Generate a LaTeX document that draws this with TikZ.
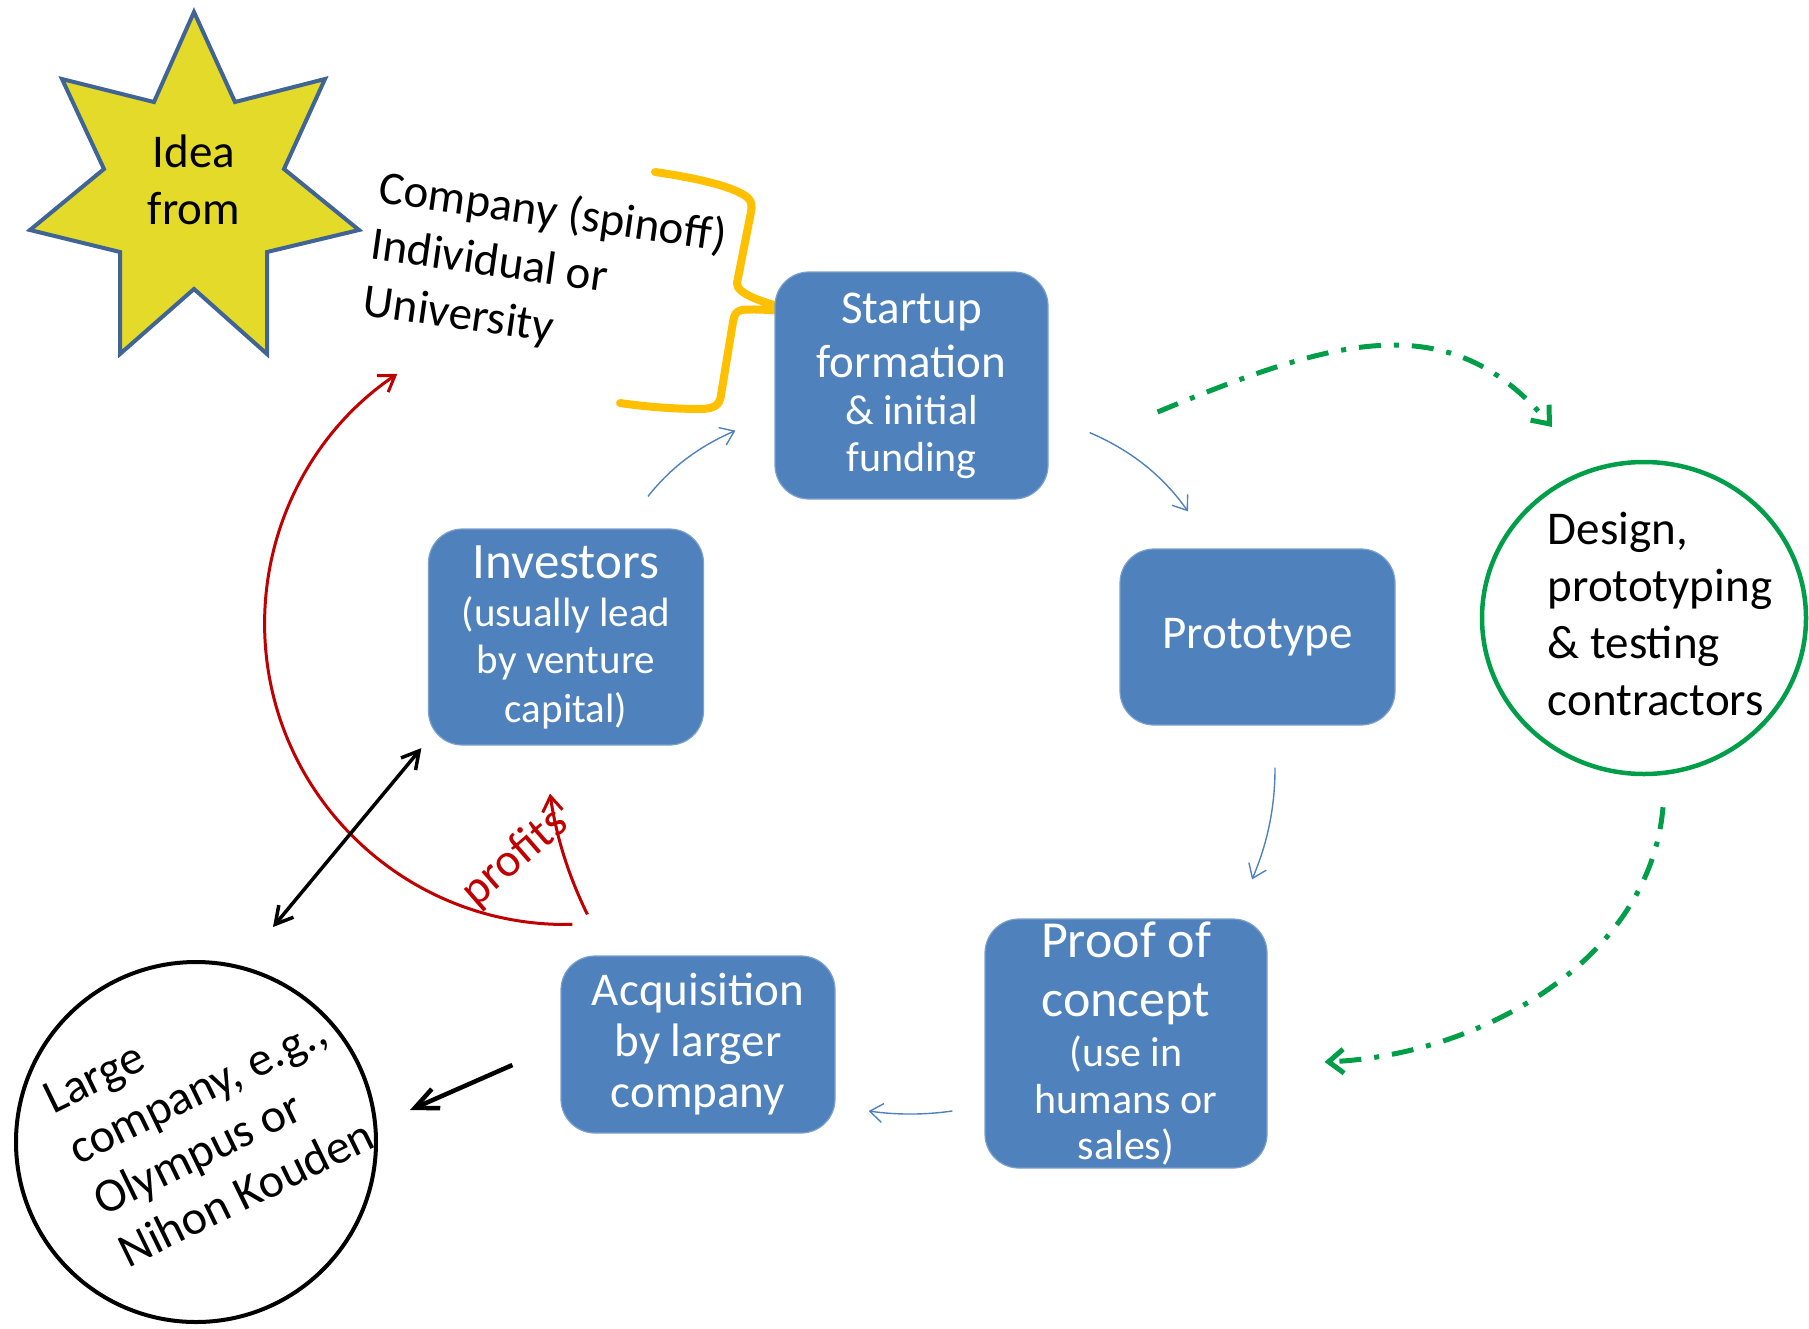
\documentclass[tikz,border=0pt]{standalone}
\usepackage{fontspec}
\setmainfont{Carlito}
\usetikzlibrary{arrows.meta,calc,shapes.geometric}
\definecolor{boxblue}{RGB}{79,129,189}
\definecolor{bracegold}{RGB}{255,192,0}
\definecolor{partnergreen}{RGB}{0,158,72}
\definecolor{profitred}{RGB}{192,0,0}
\definecolor{ideayellow}{RGB}{227,218,42}
\definecolor{ideaedge}{RGB}{64,100,150}
\newcommand{\fsz}[2]{\fontsize{#1pt}{#2pt}\selectfont}
\tikzset{
  stage/.style={rectangle, rounded corners=34pt, fill=boxblue, draw=boxblue!75!white,
    line width=1.2pt, text=white, align=center, inner sep=0pt},
  flow/.style={boxblue, line width=1.4pt, ->, >={Straight Barb[length=13pt,width=19pt]}},
  contract/.style={partnergreen, line width=5pt, dash pattern=on 22pt off 13pt on 5pt off 13pt,
    ->, >={Straight Barb[length=15pt,width=24pt]}},
  profit/.style={profitred, line width=3pt, ->, >={Straight Barb[length=15pt,width=20pt]}},
  link/.style={black, line width=3.5pt, >={Straight Barb[length=17pt,width=19pt]}},
}
\begin{document}
\begin{tikzpicture}[x=1pt, y=-1pt]
  \useasboundingbox (0,0) rectangle (1809,1328);

  % Where the idea comes from
  \draw[ideaedge, fill=ideayellow, line width=4pt, line join=miter]
    (194,12) -- (235,102) -- (325,79) -- (284,169) -- (359,230) -- (267,252)
    -- (267,354) -- (194,289) -- (120,354) -- (120,252) -- (30,230) -- (104,169)
    -- (62,79) -- (154,102) -- cycle;
  \node[font=\fsz{47}{57}, align=center] (idea) at (194,180) {Idea\\from};
  \node[rotate=-8, align=left, inner sep=0pt, font=\fsz{47}{57}] (origin) at (545,270)
    {Company (spinoff)\\Individual or\\University};

  % Brace into the startup
  \draw[bracegold, line width=8pt, line cap=round, line join=round]
    (655,172) .. controls (690,177) and (735,186) .. (748,198)
      .. controls (752,202) and (752,206) .. (751,212) -- (737,283)
      .. controls (736,293) and (760,305) .. (833,318)
    (833,318) .. controls (800,312) and (760,308) .. (742,310)
      .. controls (736,311) and (734,315) .. (733,322) -- (721,395)
      .. controls (720,405) and (714,409) .. (700,409)
      .. controls (670,409) and (640,406) .. (620,403);

  % Stages of the cycle
  \node[stage, minimum width=273pt, minimum height=227pt, font=\fsz{47}{53}] (start)
    at (911.5,385.5)
    {Startup\\[1pt]formation\\[-6pt]\fsz{42}{47}\&~initial\\[-6pt]\fsz{42}{47}funding};
  \node[stage, minimum width=275pt, minimum height=176pt, font=\fsz{47}{56}] (proto)
    at (1257.5,637) {Prototype};
  \node[stage, minimum width=282pt, minimum height=249pt, font=\fsz{52}{52}] (proof)
    at (1126,1043.5)
    {Proof of\\[7pt]concept\\[-2pt]\fsz{42}{46}(use in\\[-5pt]\fsz{42}{46}humans or\\[-6pt]\fsz{42}{46}sales)};
  \node[stage, minimum width=274pt, minimum height=177pt, font=\fsz{47}{51}] (acq)
    at (698,1044.5) {Acquisition\\by larger\\company};
  \node[stage, minimum width=275pt, minimum height=216pt, font=\fsz{51}{48}] (inv)
    at (566,637)
    {Investors\\\fsz{41}{46}(usually lead\\[-1pt]\fsz{41}{46}by venture\\[1pt]\fsz{41}{46}capital)};

  % Outside parties
  \node[ellipse, draw=partnergreen, line width=4.5pt, minimum width=324pt,
    minimum height=312pt, inner sep=0pt] (design) at (1644,618) {};
  \node[align=left, inner sep=0pt, font=\fsz{47}{57}] (designtxt) at (1660,614)
    {Design,\\prototyping\\\&~testing\\contractors};
  \node[circle, draw=black, line width=4pt, minimum size=360pt, inner sep=0pt] (large)
    at (196,1142) {};
  \node[rotate=26, align=left, inner sep=0pt, font=\fsz{48}{57}] (largetxt) at (210,1116)
    {Large\\company, e.g.,\\Olympus or\\Nihon Kouden};

  % Flow between stages
  \draw[flow] ($(inv.north)+(82,-32)$) .. controls +(23.6,-30.1) and +(-35,15.3) ..
    ($(start.south west)+(-39,-69)$);
  \draw[flow] ($(start.south east)+(41,-67)$) .. controls +(40.6,17.3) and +(-25.4,-36.1) ..
    ($(proto.north)+(-69.5,-37)$);
  \draw[flow] ($(proto.south)+(17.5,42)$) .. controls +(0.1,39.3) and +(15.5,-36.1) ..
    ($(proof.north)+(126,-39)$);
  \draw[flow] ($(proof.west)+(-32,67.5)$) .. controls +(-28.3,4) and +(28.3,4) ..
    ($(acq.east)+(33,66.5)$);

  % Contractors
  \draw[contract] ($(start.east)+(109,26.5)$) .. controls +(176,-73) and +(-103,-123) ..
    ($(design.center)+(-92,-191)$);
  \draw[contract] ($(design.south)+(19,31)$) .. controls +(-13,153) and +(156,-7) ..
    ($(proof.east)+(57,18.5)$);

  % Profits back to the source
  \draw[profit] ($(acq.north west)+(12,-31)$) arc[start angle=88.7, end angle=236, radius=301];
  \draw[profit] ($(acq.north west)+(27,-41)$) .. controls +(-19.1,-39) and +(6.3,43) ..
    ($(inv.south)+(-16,48)$);
  \node[profitred, rotate=41, font=\fsz{47}{56}, inner sep=0pt] (profits) at (515,858) {profits};

  % Large company links
  \draw[link, <->] ($(large.center)+(77,-215)$) -- ($(inv.south west)+(-6.5,2.5)$);
  \draw[link, line width=4.5pt, >={Straight Barb[length=23pt,width=21pt]}, ->]
    ($(acq.west)+(-48,20.5)$) -- ($(large.east)+(32,-32)$);
\end{tikzpicture}
\end{document}
